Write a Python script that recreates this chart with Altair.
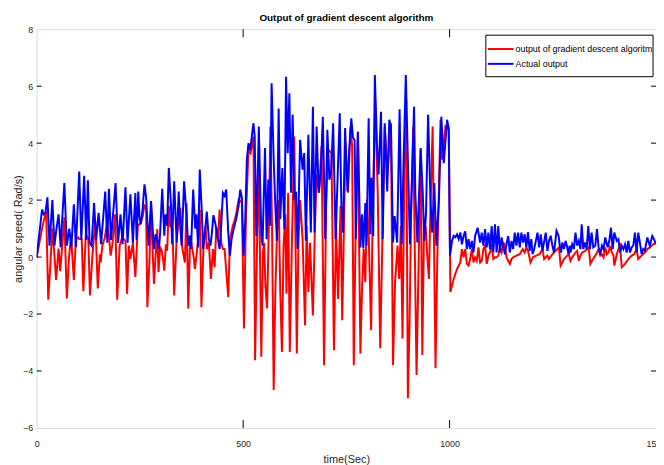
import altair as alt
import pandas as pd

# ---- data: (time [s], angular speed [rad/s]) ----
actual_output = [
    (0, 0.0), (13, 1.67), (17, 1.5), (21, 1.55), (26, 2.1), (31, 0.4), (38, 2.0), (43, 0.4), (47, 0.9),
    (53, 1.5), (58, 0.35), (61, 1.15), (67, 2.6), (73, 0.4), (79, 1.0), (84, 0.35), (90, 1.85), (95, 0.35),
    (103, 3.0), (108, 0.6), (115, 2.85), (120, 0.6), (124, 2.7), (128, 0.5), (133, 0.4), (139, 1.9),
    (144, 0.6), (150, 1.55), (156, 0.45), (166, 2.3), (171, 0.5), (175, 2.4), (180, 0.6), (191, 2.6),
    (197, 0.5), (203, 1.5), (208, 0.45), (215, 2.45), (220, 0.5), (227, 2.2), (233, 0.5), (239, 2.25),
    (242, 0.6), (246, 2.3), (249, 1.4), (252, 1.15), (256, 1.6), (261, 2.55), (265, 2.1), (271, 0.4),
    (277, 1.97), (281, 1.0), (284, 0.28), (288, 0.8), (292, 0.6), (296, 0.28), (299, 0.85), (304, 2.4),
    (309, 0.75), (312, 1.5), (316, 1.1), (320, 3.13), (325, 1.9), (328, 0.45), (333, 2.66), (339, 0.51),
    (344, 2.3), (348, 1.0), (351, 0.4), (357, 2.66), (363, 1.45), (367, 0.4), (371, 0.75), (374, 0.28),
    (379, 2.37), (384, 1.0), (387, 1.5), (391, 0.34), (395, 3.07), (400, 1.56), (403, 0.28), (407, 0.75),
    (412, 1.6), (417, 0.63), (421, 0.4), (424, 0.8), (428, 1.47), (433, 1.15), (439, 0.63), (443, 0.28),
    (447, 1.1), (451, 2.25), (455, 2.15), (459, 2.37), (464, 0.85), (468, 0.05), (472, 0.63), (477, 0.98),
    (483, 1.33), (489, 1.8), (493, 2.37), (497, 2.08), (501, 0.05),
    (505, 1.2), (509, 3.42), (513, 4.0), (517, 3.77), (521, 4.23), (525, 4.7), (528, 4.23), (532, 0.74),
    (538, 4.58), (544, 0.86), (547, 0.4), (553, 3.83), (557, 0.63), (561, 2.72), (565, 1.1), (569, 6.1),
    (574, 3.42), (578, 1.8), (582, 0.57), (586, 5.22), (590, 1.33), (595, 3.13), (600, 0.98), (604, 6.33),
    (608, 3.65), (612, 5.75), (616, 2.26), (620, 5.0), (624, 2.0), (628, 2.3), (632, 0.28), (638, 4.12),
    (644, 3.07), (648, 3.65), (652, 0.57), (658, 4.29), (664, 0.86), (669, 5.28), (673, 0.86), (678, 4.58),
    (683, 2.26), (688, 2.95), (693, 4.93), (699, 0.63), (704, 4.47), (709, 2.72), (713, 2.96), (718, 4.7),
    (724, 0.63), (730, 3.3), (734, 5.05), (738, 1.8), (742, 0.86), (747, 4.53), (750, 3.3), (753, 2.3),
    (757, 3.77), (762, 4.87), (766, 4.2), (770, 4.1), (773, 0.63), (778, 4.4), (784, 0.34), (788, 1.5),
    (791, 0.3), (796, 1.9), (799, 0.4), (804, 4.87), (808, 0.8), (811, 2.78), (815, 0.74), (819, 6.39),
    (824, 4.0), (828, 2.9), (834, 5.1), (838, 0.63), (843, 4.7), (849, 2.3), (854, 4.82), (858, 4.6),
    (863, 0.51), (867, 1.44), (873, 0.51), (879, 5.19), (884, 0.45), (888, 2.96), (894, 6.39), (899, 3.42),
    (904, 0.45), (907, 1.73), (914, 5.28), (917, 2.26), (922, 0.51), (930, 3.83), (935, 2.26), (939, 0.57),
    (943, 1.56), (948, 5.0), (954, 1.9), (958, 0.86), (963, 2.6), (968, 0.4), (971, 1.2), (974, 1.9),
    (980, 4.93), (986, 3.3), (994, 4.82), (998, 4.53), (1001, 0.05),
    (1006, 0.57), (1010, 0.75), (1014, 0.7), (1018, 0.8), (1022, 0.63), (1026, 0.86), (1030, 0.45),
    (1034, 0.75), (1038, 0.9), (1042, 0.28), (1046, 0.63), (1050, 0.28), (1054, 0.57), (1058, 0.16),
    (1062, 0.75), (1068, 1.03), (1074, 0.51), (1078, 0.86), (1082, 0.4), (1086, 0.98), (1090, 0.34),
    (1094, 0.86), (1098, 0.28), (1102, 1.09), (1106, 0.16), (1110, 1.15), (1114, 0.16), (1118, 1.09),
    (1122, 0.16), (1126, 0.69), (1134, 0.1), (1138, 0.45), (1142, 0.74), (1146, 0.16), (1150, 0.57),
    (1154, 0.28), (1158, 0.86), (1162, 0.4), (1166, 0.86), (1170, 0.34), (1174, 0.86), (1178, 0.51),
    (1182, 0.8), (1186, 0.34), (1190, 0.88), (1194, 0.22), (1198, 0.63), (1201, 0.1), (1205, 0.28),
    (1213, 0.86), (1217, 0.34), (1221, 0.8), (1225, 0.22), (1233, 0.86), (1237, 0.22), (1241, 0.57),
    (1245, 0.75), (1249, 0.4), (1253, 0.16), (1259, 0.92), (1264, 0.75), (1267, 0.4), (1270, 0.16),
    (1273, 0.51), (1277, 0.28), (1281, 0.57), (1285, 0.34), (1288, 0.1), (1291, 0.4), (1293, 0.16),
    (1297, 0.45), (1301, 0.28), (1305, 0.86), (1309, 0.4), (1313, 0.57), (1317, 0.28), (1320, 1.15),
    (1324, 0.28), (1328, 0.51), (1332, 0.28), (1336, 1.09), (1340, 0.28), (1344, 0.86), (1348, 0.34),
    (1353, 0.4), (1357, 0.98), (1361, 0.34), (1365, 0.1), (1369, 0.4), (1373, 0.28), (1377, 0.69),
    (1383, 0.34), (1387, 0.57), (1391, 1.03), (1395, 0.28), (1399, 0.86), (1405, 0.57), (1409, 0.63),
    (1413, 0.16), (1417, 0.4), (1421, 0.28), (1425, 0.45), (1429, 0.16), (1433, 0.57), (1437, 0.16),
    (1441, 0.34), (1445, 0.4), (1449, 0.86), (1453, 0.16), (1457, 0.86), (1461, 0.51), (1465, 0.1),
    (1469, 0.28), (1473, 0.22), (1479, 0.69), (1485, 0.4), (1491, 0.74), (1495, 0.63), (1500, 0.45),
]

gd_output = [
    (0, 0.0), (13, 1.0), (17, 1.27), (23, 1.6), (28, -1.5), (33, -0.3), (38, 1.0), (43, 0.05), (47, -0.8),
    (53, 0.3), (57, -0.5), (63, 0.63), (67, 1.4), (73, -1.45), (78, -0.07), (83, 0.75), (90, -0.8),
    (95, 0.63), (101, 0.69), (103, 0.63), (109, 0.63), (113, -1.2), (119, 0.8), (125, 0.65), (129, -1.35),
    (135, 0.05), (142, 1.27), (148, -1.1), (153, 0.1), (155, -0.19), (159, 0.4), (165, 0.69), (170, 1.15),
    (175, 0.75), (179, 0.05), (183, 0.4), (190, 1.5), (195, -1.5), (201, 0.4), (207, 0.69), (215, 0.57),
    (219, -1.3), (223, 0.4), (227, -0.07), (233, 0.5), (239, -0.7), (245, 1.1), (252, 1.2), (257, 1.44),
    (261, 1.85), (265, 1.67), (268, -1.76), (273, -0.19), (277, 1.8), (281, 0.16), (284, -0.94),
    (289, 0.28), (292, 0.98), (295, -0.53), (299, 0.34), (303, 0.22), (307, -0.19), (309, -0.48),
    (313, 0.45), (316, 0.22), (320, 1.8), (323, 1.1), (329, 1.0), (333, -1.35), (339, 0.63), (343, 1.1),
    (348, 1.73), (353, 0.28), (359, -0.19), (363, 1.9), (367, -1.81), (372, 0.75), (377, 0.28),
    (381, -0.07), (383, -0.42), (387, 0.05), (391, 0.63), (395, 1.67), (399, -1.76), (403, -0.07),
    (405, 0.75), (409, 1.1), (412, 0.28), (417, 0.51), (422, -0.77), (427, 0.28), (431, -0.36),
    (435, 1.04), (439, 0.63), (443, 1.67), (447, 0.51), (451, 0.28), (455, 0.28), (464, -1.41),
    (468, 0.63), (475, 1.1), (479, 1.27), (483, 1.5), (489, 2.02), (493, 1.97), (497, 1.9), (502, -2.51),
    (507, 1.5), (513, 3.77), (518, 3.65), (525, 4.23), (529, -3.62), (534, 0.7), (538, 3.2), (544, -3.5),
    (548, 0.16), (551, 0.5), (554, -1.0), (558, -1.8), (562, 0.86), (566, 4.58), (570, 1.1), (574, -4.67),
    (578, -1.23), (582, 0.86), (586, 2.0), (590, -1.23), (594, -3.33), (598, 0.4), (602, 1.5),
    (605, -1.29), (609, 2.26), (613, -3.33), (618, 0.4), (624, 4.23), (630, -3.39), (634, 0.51),
    (638, 2.0), (644, 0.63), (650, -2.4), (654, 1.1), (658, -1.23), (662, 0.5), (669, -2.05), (674, 1.1),
    (678, 2.9), (684, 2.26), (690, 3.9), (696, -3.8), (701, 1.79), (706, 3.77), (714, 3.65), (720, -3.27),
    (725, 1.1), (730, -1.47), (736, 1.79), (740, -2.22), (744, 0.9), (748, 4.0), (754, 2.26), (760, 4.58),
    (764, 3.9), (768, -3.8), (774, 2.5), (778, 4.4), (784, -3.39), (788, -1.1), (792, 0.28), (796, -0.88),
    (800, 2.02), (804, 0.86), (810, -2.57), (814, 1.79), (820, 5.5), (826, 2.26), (832, -3.2), (838, 1.1),
    (843, 4.58), (850, 3.0), (858, 4.7), (863, -3.8), (868, -0.88), (874, 0.4), (878, -0.77), (882, 1.1),
    (886, -2.86), (891, 3.42), (895, 5.5), (899, -4.96), (903, -2.4), (907, 1.67), (912, 4.58), (915, 1.1),
    (920, -4.14), (926, 0.51), (930, 3.77), (934, -3.44), (938, 0.86), (942, 1.1), (946, 0.05),
    (950, -0.77), (954, 1.9), (959, 4.58), (966, -3.9), (970, -0.3), (978, 4.82), (982, 3.42), (990, 4.58),
    (998, 4.47), (1002, -1.23),
    (1010, -0.77), (1018, -0.42), (1026, -0.19), (1030, 0.28), (1034, -0.01), (1038, 0.28), (1042, -0.24),
    (1046, -0.3), (1050, -0.07), (1054, 0.28), (1058, -0.19), (1062, -0.01), (1066, -0.13), (1070, 0.34),
    (1074, -0.19), (1078, -0.13), (1082, 0.28), (1086, 0.4), (1090, -0.24), (1094, 0.05), (1098, 0.16),
    (1102, 0.45), (1106, -0.07), (1110, -0.01), (1114, -0.01), (1118, 0.05), (1122, 0.34), (1126, 0.16),
    (1132, 0.51), (1138, -0.01), (1146, -0.24), (1150, -0.07), (1154, -0.01), (1162, 0.05), (1170, 0.1),
    (1177, 0.28), (1182, 0.16), (1186, 0.34), (1190, 0.22), (1196, -0.19), (1202, -0.01), (1210, 0.05),
    (1218, 0.1), (1225, 0.28), (1229, -0.07), (1237, 0.05), (1241, -0.07), (1249, 0.1), (1257, 0.22),
    (1265, 0.34), (1269, -0.3), (1273, -0.19), (1277, -0.07), (1281, -0.01), (1285, 0.05), (1289, 0.1),
    (1293, -0.13), (1297, -0.01), (1305, 0.16), (1309, 0.22), (1313, -0.13), (1317, 0.05), (1321, 0.16),
    (1329, 0.22), (1337, 0.34), (1341, -0.24), (1345, -0.13), (1353, 0.05), (1357, 0.16), (1361, 0.28),
    (1365, 0.05), (1369, 0.1), (1373, -0.01), (1377, 0.34), (1381, 0.1), (1385, 0.16), (1389, 0.4),
    (1393, 0.16), (1397, 0.05), (1399, -0.3), (1405, 0.1), (1409, 0.28), (1413, 0.4), (1417, -0.36),
    (1425, -0.24), (1433, -0.07), (1441, 0.05), (1447, 0.1), (1453, 0.28), (1457, -0.07), (1465, 0.05),
    (1473, 0.16), (1479, 0.28), (1485, 0.34), (1493, 0.45), (1500, 0.5),
]

x_ticks = [0, 500, 1000, 1500]
y_ticks = [-6, -4, -2, 0, 2, 4, 6, 8]
inner_x_ticks = [500, 1000]
inner_y_ticks = [-4, -2, 0, 2, 4, 6]

legend_labels = ["output of gradient descent algoritm", "Actual output"]
line_colors = ["#FF0000", "#0000FF"]

title_text = "Output of gradient descent algorithm"
x_title = "time(Sec)"
y_title = "angular speed( Rad/s)"

# ---- chart ----
W, H = 626, 403
FONT = "Liberation Sans, Arial, sans-serif"

df_actual = pd.DataFrame(actual_output, columns=["t", "v"])
df_gd = pd.DataFrame(gd_output, columns=["t", "v"])

x_axis = alt.Axis(values=x_ticks, format="d", grid=False, ticks=False, domain=False,
                  labelFlush=False, labelPadding=12, labelFontSize=9, labelColor="#262626",
                  title=x_title, titleFontSize=11, titleFontWeight="normal", titlePadding=5,
                  titleColor="#262626", labelFont=FONT, titleFont=FONT)
y_axis = alt.Axis(values=y_ticks, grid=False, ticks=False, domain=False,
                  labelFlush=False, labelPadding=4, labelFontSize=9, labelColor="#262626",
                  title=y_title, titleFontSize=11, titleFontWeight="normal", titleX=-13,
                  titleBaseline="bottom",
                  titleColor="#262626", labelFont=FONT, titleFont=FONT)
x_scale = alt.Scale(domain=[0, 1500], nice=False, zero=False)
y_scale = alt.Scale(domain=[-6, 8], nice=False, zero=False)


def X():
    return alt.X("t:Q", scale=x_scale, axis=x_axis)


def Y():
    return alt.Y("v:Q", scale=y_scale, axis=y_axis)


red_line = alt.Chart(df_gd).mark_line(color=line_colors[0], strokeWidth=2, clip=True).encode(x=X(), y=Y())
blue_line = alt.Chart(df_actual).mark_line(color=line_colors[1], strokeWidth=2, clip=True).encode(x=X(), y=Y())

xt = pd.DataFrame({"t": inner_x_ticks})
yt = pd.DataFrame({"v": inner_y_ticks})
tick_top = alt.Chart(xt).mark_rule(color="black", strokeWidth=1).encode(x=X(), y=alt.value(0), y2=alt.value(8))
tick_bot = alt.Chart(xt).mark_rule(color="black", strokeWidth=1).encode(x=X(), y=alt.value(H), y2=alt.value(H - 8))
tick_left = alt.Chart(yt).mark_rule(color="black", strokeWidth=1).encode(y=Y(), x=alt.value(0), x2=alt.value(5))
tick_right = alt.Chart(yt).mark_rule(color="black", strokeWidth=1).encode(y=Y(), x=alt.value(W), x2=alt.value(W - 5))

one = pd.DataFrame({"k": [0]})
leg_box = alt.Chart(one).mark_rect(fill="white", stroke="black", strokeWidth=1).encode(
    x=alt.value(454), x2=alt.value(623), y=alt.value(6), y2=alt.value(48))
leg_r = alt.Chart(one).mark_rule(color=line_colors[0], strokeWidth=2).encode(
    x=alt.value(456), x2=alt.value(482), y=alt.value(20))
leg_b = alt.Chart(one).mark_rule(color=line_colors[1], strokeWidth=2).encode(
    x=alt.value(456), x2=alt.value(482), y=alt.value(35))
leg_t1 = alt.Chart(one).mark_text(align="left", baseline="middle", fontSize=9, font=FONT, color="black").encode(
    x=alt.value(484), y=alt.value(20), text=alt.value(legend_labels[0]))
leg_t2 = alt.Chart(one).mark_text(align="left", baseline="middle", fontSize=9, font=FONT, color="black").encode(
    x=alt.value(484), y=alt.value(35), text=alt.value(legend_labels[1]))

chart = alt.layer(
    red_line, blue_line, tick_top, tick_bot, tick_left, tick_right,
    leg_box, leg_r, leg_b, leg_t1, leg_t2,
).properties(
    width=W, height=H,
    title=alt.TitleParams(title_text, fontSize=10, fontWeight="bold", font=FONT, anchor="middle",
                          offset=2, color="black"),
    autosize=alt.AutoSizeParams(type="none"),
    padding={"left": 29, "top": 19, "right": 0, "bottom": 35},
).configure_view(stroke="black", strokeWidth=1).configure(background="white")

chart.save("out.html", embed_options={"renderer": "svg", "actions": False})
